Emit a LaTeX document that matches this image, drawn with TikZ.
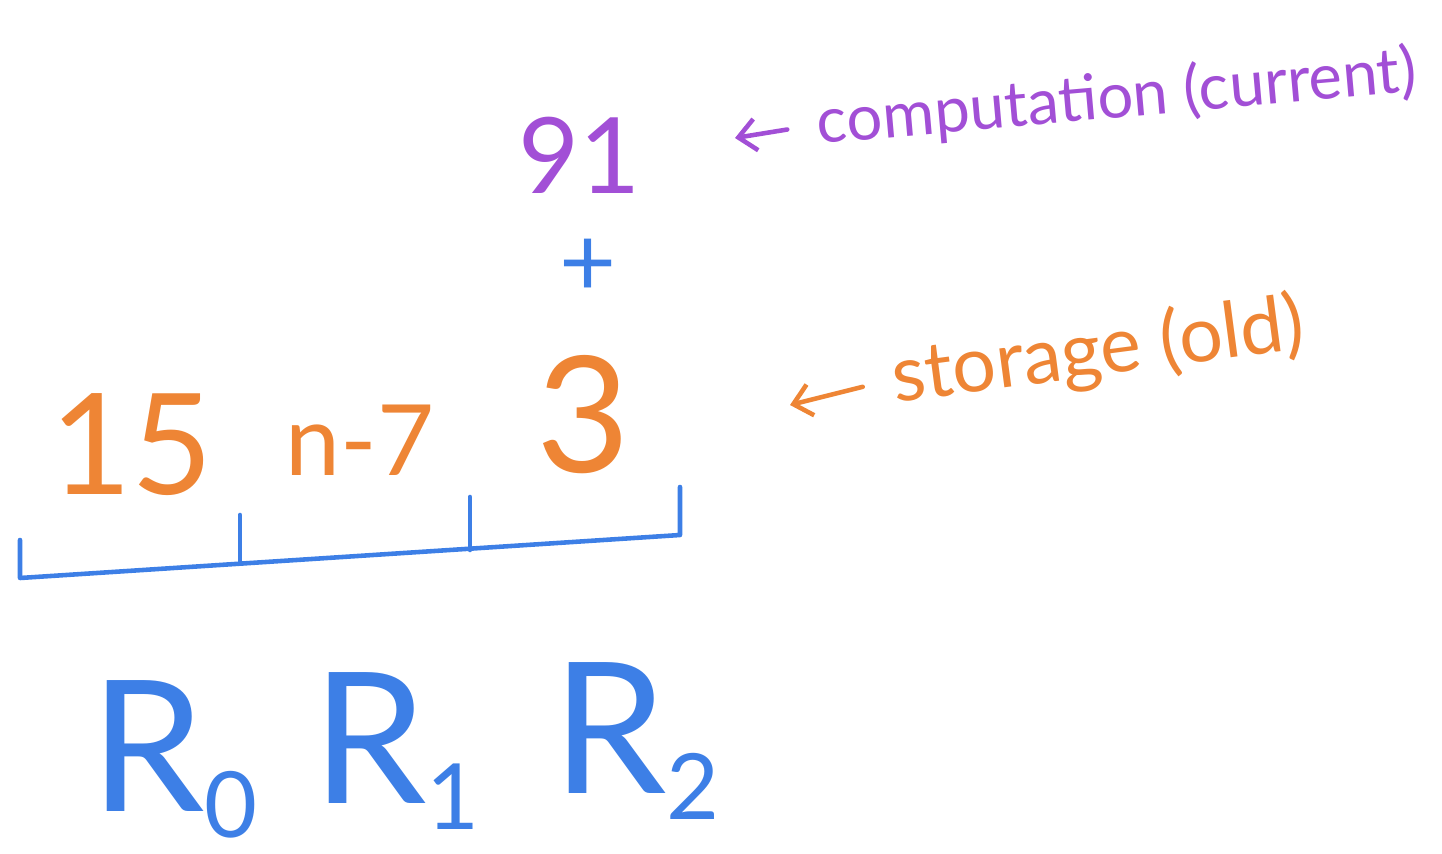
\documentclass[tikz,border=0pt]{standalone}
\usepackage{fontspec}
\setmainfont{Lato}
\usetikzlibrary{arrows.meta}

\definecolor{penpurple}{HTML}{A24FD6}
\definecolor{penorange}{HTML}{EE8535}
\definecolor{penblue}{HTML}{3D7FE6}

\newcommand{\regsub}[1]{\raisebox{-0.26cm}{\fontsize{26}{26}\selectfont #1}}

\begin{document}
\begin{tikzpicture}[line width=1.3pt,line cap=round,line join=round,
  big/.style={font=\fontsize{#1}{#1}\selectfont,inner sep=0pt},
  note/.style={font=\fontsize{#1}{#1}\selectfont,inner sep=0pt,anchor=west},
  pen arrow/.style={-{Straight Barb[length=5pt,width=9pt]},shorten <=8pt}]
\useasboundingbox (0,0) rectangle (14.42,8.53);

% computation row
\node[big=30,text=penpurple] (sum) at (5.80,6.98) {91};
\node[note=18,text=penpurple,rotate=5] (comp) at (8.15,7.28) {computation (current)};
\coordinate (comptip) at (7.35,7.15);
\draw[pen arrow,penpurple] (comp.west) -- (comptip);

\node[big=28,text=penblue] (plus) at (5.88,5.85) {+};

% storage row
\node[big=46,text=penorange] (three) at (5.83,4.38) {3};
\node[big=40,text=penorange] (fifteen) at (1.32,4.08) {15};
\node[big=28,text=penorange] (nminus) at (3.60,4.13) {n-7};
\node[note=22,text=penorange,rotate=7.5] (store) at (8.90,4.73) {storage (old)};
\coordinate (storetip) at (7.90,4.48);
\draw[pen arrow,penorange] (store.west) -- (storetip);

% registers
\draw[penblue] (0.20,3.13) -- (0.20,2.75) -- (6.80,3.18) -- (6.80,3.66);
\draw[penblue] (2.40,3.38) -- (2.40,2.91);
\draw[penblue] (4.70,3.56) -- (4.70,3.03);

\node[big=52,text=penblue,anchor=base west] (R0) at (0.88,0.42) {R\regsub{0}};
\node[big=52,text=penblue,anchor=base west] (R1) at (3.10,0.50) {R\regsub{1}};
\node[big=52,text=penblue,anchor=base west] (R2) at (5.50,0.60) {R\regsub{2}};
\end{tikzpicture}
\end{document}
